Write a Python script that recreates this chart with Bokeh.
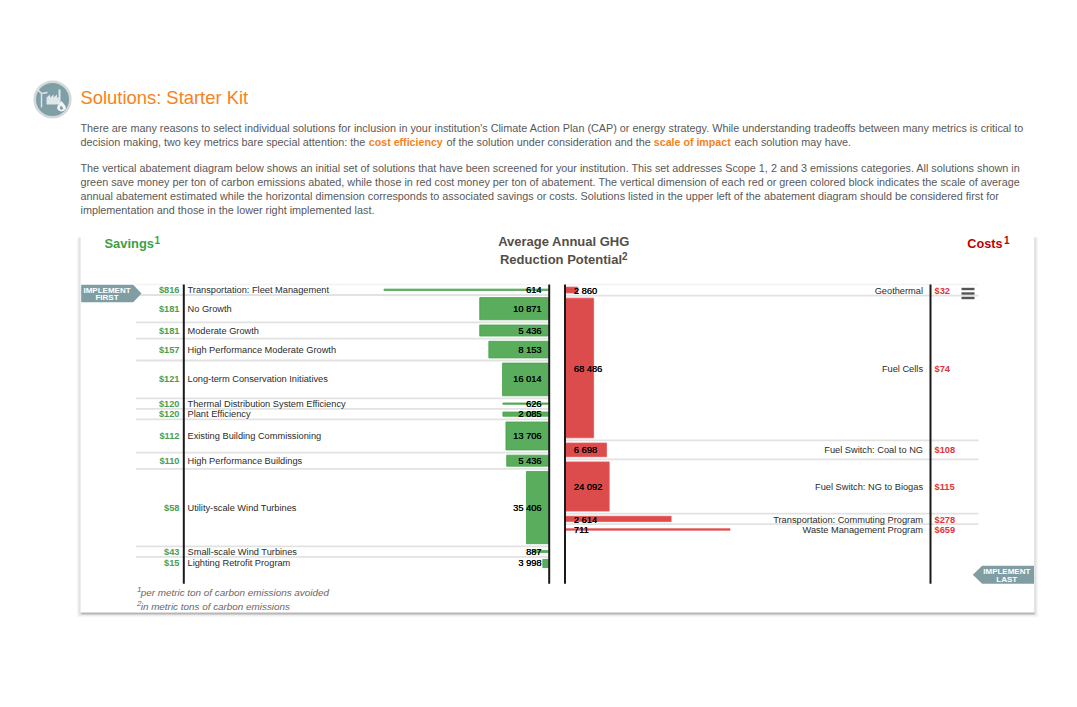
from bokeh.plotting import figure
from bokeh.models import Range1d
from bokeh.core.properties import value
from bokeh.embed import file_html
from bokeh.resources import INLINE

# ---------- data ----------
save_names = ["Transportation: Fleet Management", "No Growth", "Moderate Growth",
              "High Performance Moderate Growth", "Long-term Conservation Initiatives",
              "Thermal Distribution System Efficiency", "Plant Efficiency",
              "Existing Building Commissioning", "High Performance Buildings",
              "Utility-scale Wind Turbines", "Small-scale Wind Turbines", "Lighting Retrofit Program"]
save_cost = [816, 181, 181, 157, 121, 120, 120, 112, 110, 58, 43, 15]
save_tons = [614, 10871, 5436, 8153, 16014, 626, 2085, 13706, 5436, 35406, 887, 3998]

cost_names = ["Geothermal", "Fuel Cells", "Fuel Switch: Coal to NG", "Fuel Switch: NG to Biogas",
              "Transportation: Commuting Program", "Waste Management Program"]
cost_cost = [32, 74, 108, 115, 278, 659]
cost_tons = [2860, 68486, 6698, 24092, 2614, 711]

title = "Solutions: Starter Kit"
para = [
    ("There are many reasons to select individual solutions for inclusion in your institution's Climate Action Plan (CAP) or energy strategy. While understanding tradeoffs between many metrics is critical to", 127),
    ("The vertical abatement diagram below shows an initial set of solutions that have been screened for your institution. This set addresses Scope 1, 2 and 3 emissions categories. All solutions shown in", 167),
    ("green save money per ton of carbon emissions abated, while those in red cost money per ton of abatement. The vertical dimension of each red or green colored block indicates the scale of average", 181),
    ("annual abatement estimated while the horizontal dimension corresponds to associated savings or costs. Solutions listed in the upper left of the abatement diagram should be considered first for", 195),
    ("implementation and those in the lower right implemented last.", 209),
]

# ---------- scales ----------
PX_PER_DOLLAR = 0.38
DOLLAR_CAP = 433          # the widest bars are cut off at this value
PX_PER_TON = 0.00204
PAD_TONS = 2550           # blank band around a block, in tons of the vertical scale
MIN_ROW_TONS = 5150       # a row never gets thinner than this

W, H = 1061, 691
p = figure(width=W, height=H, output_backend="svg", toolbar_location=None,
           x_range=Range1d(0, W), y_range=Range1d(H, 0),
           x_axis_type=None, y_axis_type=None, min_border=0, outline_line_color=None,
           background_fill_color="white", border_fill_color="white")
p.grid.visible = False

SAVE_X0, COST_X0, ROW_Y0 = 548, 565, 284
p.extra_x_ranges["save"] = Range1d(SAVE_X0 / PX_PER_DOLLAR, (SAVE_X0 - W) / PX_PER_DOLLAR)
p.extra_x_ranges["cost"] = Range1d(-COST_X0 / PX_PER_DOLLAR, (W - COST_X0) / PX_PER_DOLLAR)
p.extra_y_ranges["tons"] = Range1d((H - ROW_Y0) / PX_PER_TON, -ROW_Y0 / PX_PER_TON)

FONT = value("Liberation Sans")


def txt(x, y, s, size, color, align="left", style="normal", **kw):
    p.text(x=[x], y=[y], text=[s], text_font=FONT, text_font_size=size, text_color=color,
           text_align=align, text_baseline="middle", text_font_style=style, **kw)


def rows(tons):
    tops, bottoms, mids = [], [], []
    t = 0
    for v in tons:
        h = max(MIN_ROW_TONS, v + PAD_TONS)
        tops.append(t)
        bottoms.append(t + h)
        mids.append(t + h / 2)
        t += h
    return tops, bottoms, mids


# ---------- card with shadow ----------
for grow, alpha in [(4, 0.02), (3, 0.03), (2, 0.04), (1, 0.06)]:
    p.quad(left=[80 - grow], right=[1034 + grow], top=[237], bottom=[612 + grow + 1],
           fill_color="black", fill_alpha=alpha, line_color=None)
p.quad(left=[81], right=[1034], top=[237], bottom=[614], fill_color="black", fill_alpha=0.16, line_color=None)
p.quad(left=[80], right=[1034], top=[234], bottom=[612], fill_color="white", line_color=None)

# ---------- page header ----------
p.circle(x=[52], y=[99], radius=17.8, fill_color="#7f9fa6", line_color="#d5d8d8", line_width=2.6)
p.patch(x=[46, 46, 49.5, 49.5, 53, 53, 56.5, 56.5, 58, 58, 60, 60],
        y=[104, 97, 94, 97, 94, 97, 94, 97, 97, 89, 89, 104], fill_color="#dfe7e8", line_color=None)
p.patch(x=[61, 63, 65, 65.5, 63.5, 61, 58.5, 56.5, 57, 59], y=[100.5, 103, 105.5, 108, 110.3, 111, 110.3, 108, 105.5, 103],
        fill_color="#f2f5f5", line_color=None)
p.patch(x=[60.2, 61.8, 62.8, 61, 59.2], y=[105, 106.5, 108, 109.4, 108], fill_color="#7f9fa6", line_color=None)
p.segment(x0=[41, 41, 41], y0=[93, 93, 93], x1=[41, 36, 47], y1=[107, 88, 92], line_color="#dfe7e8", line_width=1.4)

txt(80, 96.5, title, "18.4px", "#f58220")
BODY = "10.82px"
BOLD = "10.65px"
for s, y in para:
    txt(80, y, s, BODY, "#595959")
LINE2 = 141
txt(80, LINE2, "decision making, two key metrics bare special attention: the", BODY, "#595959")
txt(368.3, LINE2, "cost efficiency", BOLD, "#f58220", style="bold")
txt(446, LINE2, "of the solution under consideration and the", BODY, "#595959")
txt(653.3, LINE2, "scale of impact", BOLD, "#f58220", style="bold")
txt(734, LINE2, "each solution may have.", BODY, "#595959")

# ---------- chart headers ----------
txt(104, 243, "Savings", "12.9px", "#3f9f3f", style="bold")
txt(154, 239, "1", "10px", "#3f9f3f", style="bold")
txt(1002, 243, "Costs", "12.7px", "#c00000", align="right", style="bold")
txt(1003.5, 239, "1", "10px", "#c00000", style="bold")
txt(563.5, 241, "Average Annual GHG", "13px", "#554e47", align="center", style="bold")
txt(560.5, 259, "Reduction Potential", "13px", "#554e47", align="center", style="bold")
txt(621.5, 255.5, "2", "10px", "#554e47", style="bold")

# ---------- separators ----------
s_top, s_bot, s_mid = rows(save_tons)
c_top, c_bot, c_mid = rows(cost_tons)

s_edges = s_bot[:-1]
p.segment(x0=[135.7] * len(s_edges), x1=[SAVE_X0] * len(s_edges), y0=[ROW_Y0 + e * PX_PER_TON for e in s_edges],
          y1=[ROW_Y0 + e * PX_PER_TON for e in s_edges], line_color="#e2e2e2", line_width=1.8)
c_edges = c_bot[:-1]
p.segment(x0=[COST_X0] * len(c_edges), x1=[978] * len(c_edges), y0=[ROW_Y0 + e * PX_PER_TON for e in c_edges],
          y1=[ROW_Y0 + e * PX_PER_TON for e in c_edges], line_color="#e2e2e2", line_width=1.8)
p.segment(x0=[135.7, COST_X0], x1=[SAVE_X0, 978], y0=[ROW_Y0, ROW_Y0], y1=[ROW_Y0, ROW_Y0],
          line_color="#f3f3f3", line_width=1.5)

# ---------- bars ----------
p.quad(left=[0] * len(save_cost), right=[min(c, DOLLAR_CAP) for c in save_cost],
       top=[m - v / 2 for m, v in zip(s_mid, save_tons)], bottom=[m + v / 2 for m, v in zip(s_mid, save_tons)],
       fill_color="#5aad5c", line_color="#45a349", line_width=0.8,
       x_range_name="save", y_range_name="tons")
p.quad(left=[0] * len(cost_cost), right=[min(c, DOLLAR_CAP) for c in cost_cost],
       top=[m - v / 2 for m, v in zip(c_mid, cost_tons)], bottom=[m + v / 2 for m, v in zip(c_mid, cost_tons)],
       fill_color="#dd4c4d", line_color="#e65455", line_width=0.8,
       x_range_name="cost", y_range_name="tons")

# ---------- axis rules ----------
p.segment(x0=[183.3, 548.7, 564.5, 930], x1=[183.3, 548.7, 564.5, 930], y0=[284] * 4, y1=[583.3] * 4,
          line_color="#1a1a1a", line_width=2)

# ---------- row labels ----------
FS = "9.25px"
NUM = "9.3px"


def num(x, y, s, align):
    # drawn twice with a slight offset: the reference's figures are heavier than regular weight
    txt(x, y, s, NUM, "#000000", align=align)
    txt(x + 0.2, y, s, NUM, "#000000", align=align)


for n, c, t, m in zip(save_names, save_cost, save_tons, s_mid):
    y = ROW_Y0 + m * PX_PER_TON
    txt(179, y, f"${c}", FS, "#4a9e4d", align="right", style="bold")
    txt(187, y, n, FS, "#2b2b2b")
    num(541, y, f"{t:,}".replace(",", " "), "right")
for n, c, t, m in zip(cost_names, cost_cost, cost_tons, c_mid):
    y = ROW_Y0 + m * PX_PER_TON + 0.6
    txt(934, y, f"${c}", FS, "#e0343c", style="bold")
    txt(922.5, y, n, FS, "#2b2b2b", align="right")
    num(573.3, y, f"{t:,}".replace(",", " "), "left")

# ---------- implement tags ----------
TAG = "8px"
p.patch(x=[80.7, 132.7, 141, 132.7, 80.7], y=[284.3, 284.3, 293, 301.7, 301.7], fill_color="#7f9da3", line_color=None)
txt(106.5, 289.5, "IMPLEMENT", TAG, "#ffffff", align="center", style="bold")
txt(106.5, 297, "FIRST", TAG, "#ffffff", align="center", style="bold")
p.patch(x=[1033.5, 981.7, 972.3, 981.7, 1033.5], y=[565.3, 565.3, 574.3, 583.3, 583.3], fill_color="#7f9da3", line_color=None)
txt(1006.3, 571, "IMPLEMENT", TAG, "#ffffff", align="center", style="bold")
txt(1006.3, 579, "LAST", TAG, "#ffffff", align="center", style="bold")

# ---------- menu icon ----------
p.segment(x0=[961] * 3, x1=[974] * 3, y0=[288.5, 293, 297.5], y1=[288.5, 293, 297.5], line_color="#555555", line_width=2.4)

# ---------- footnotes ----------
txt(136.5, 589, "1", "8px", "#666666", style="italic")
txt(140.2, 591.7, "per metric ton of carbon emissions avoided", "9.9px", "#666666", style="italic")
txt(136.5, 602.5, "2", "8px", "#666666", style="italic")
txt(140.2, 605.7, "in metric tons of carbon emissions", "9.9px", "#666666", style="italic")

open("out.html", "w").write(file_html(p, INLINE))
